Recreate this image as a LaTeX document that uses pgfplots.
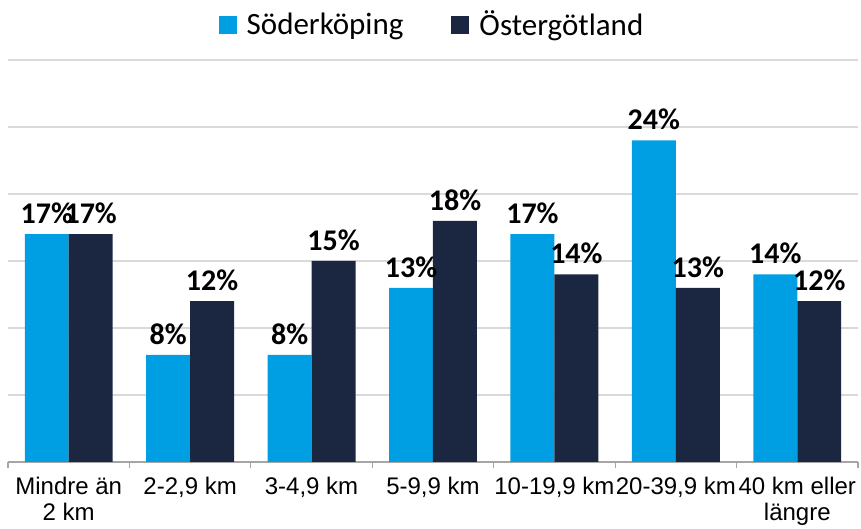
\documentclass[border=0pt]{standalone}
\usepackage{pgfplots}
\pgfplotsset{compat=1.18}
\usepackage{fontspec}
\setmainfont{Carlito}
\newfontfamily\arialf{Liberation Sans}
\definecolor{cA}{HTML}{009FE3}
\definecolor{cB}{HTML}{1B2741}
\definecolor{gridc}{HTML}{D9D9D9}
\definecolor{axc}{HTML}{A6A6A6}
\begin{document}
\begin{tikzpicture}
\begin{axis}[
  at={(4pt,33.5pt)}, anchor=south west,
  scale only axis, width=425pt, height=201pt,
  xmin=-0.5, xmax=6.5, ymin=0, ymax=30,
  axis x line=bottom, axis y line=left,
  x axis line style={axc, line width=0.6pt, -},
  y axis line style={draw=none},
  major y tick style={draw=none},
  ytick={5,10,...,30}, yticklabels={}, ymajorgrids,
  grid style={gridc, line width=0.6pt},
  xtick={-0.5,0.5,...,6.5}, xticklabels={},
  major x tick style={axc, line width=0.6pt},
  major tick length=3pt, tick align=outside,
  extra x ticks={0,...,6},
  extra x tick labels={{Mindre än\\2 km},{2-2,9 km},{3-4,9 km},{5-9,9 km},{10-19,9 km},{20-39,9 km},{40 km eller\\längre}},
  extra x tick style={major tick length=0pt, xticklabel style={font=\arialf\fontsize{12}{13}\selectfont, align=center, anchor=north, yshift=-4pt}},
  ybar, bar width=0.362,
  nodes near coords={\pgfmathprintnumber[assume math mode=true]{\pgfplotspointmeta}\%},
  nodes near coords style={font=\bfseries\fontsize{15}{17}\selectfont, text=black, inner sep=2pt, yshift=3pt},
  legend style={at={(0.5,1)}, anchor=center, yshift=17.5pt, draw=none, legend columns=2,
    font=\fontsize{15.5}{17}\selectfont, /tikz/every even column/.append style={column sep=22pt},
    /tikz/every odd column/.append style={column sep=3pt}},
  legend image code/.code={\fill[#1] (0pt,-4.5pt) rectangle (9pt,4.5pt);},
]
\addplot[fill=cA, draw=none, bar shift=-0.181] coordinates {(0,17) (1,8) (2,8) (3,13) (4,17) (5,24) (6,14)};
\addplot[fill=cB, draw=none, bar shift=0.181] coordinates {(0,17) (1,12) (2,15) (3,18) (4,14) (5,13) (6,12)};
\legend{Söderköping, Östergötland}
\end{axis}
\pgfresetboundingbox
\path (0,0) rectangle (430.5pt,264.5pt);
\end{tikzpicture}
\end{document}
